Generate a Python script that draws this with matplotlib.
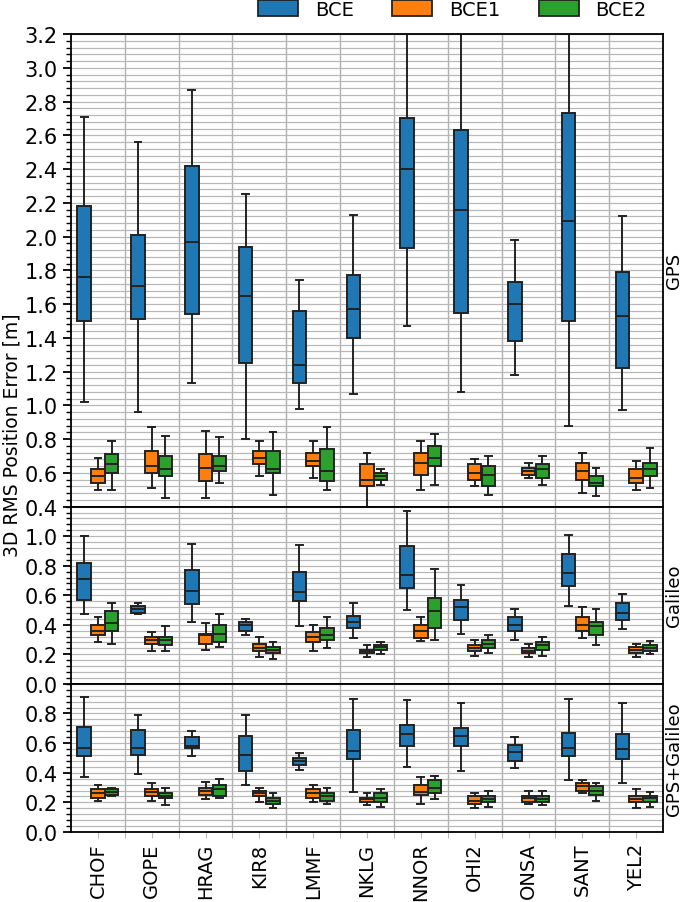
import numpy as np
import matplotlib
matplotlib.use("Agg")
import matplotlib.pyplot as plt
from matplotlib.patches import Patch
from matplotlib.ticker import MultipleLocator

stations = ["CHOF", "GOPE", "HRAG", "KIR8", "LMMF", "NKLG",
            "NNOR", "OHI2", "ONSA", "SANT", "YEL2"]
series = ["BCE", "BCE1", "BCE2"]
panels = ["GPS", "Galileo", "GPS+Galileo"]
colors = ["#1f77b4", "#ff7f0e", "#2ca02c"]

# (whisker low, q1, median, q3, whisker high) per station
gps_bce = [(1.02, 1.50, 1.76, 2.18, 2.71), (0.96, 1.51, 1.71, 2.01, 2.56),
           (1.13, 1.54, 1.97, 2.42, 2.87), (0.80, 1.25, 1.65, 1.94, 2.25),
           (0.98, 1.13, 1.24, 1.56, 1.74), (1.07, 1.40, 1.57, 1.77, 2.13),
           (1.47, 1.93, 2.40, 2.70, 3.50), (1.08, 1.55, 2.16, 2.63, 3.50),
           (1.18, 1.38, 1.60, 1.73, 1.98), (0.88, 1.50, 2.09, 2.73, 3.50),
           (0.97, 1.22, 1.53, 1.79, 2.12)]
gps_bce1 = [(0.50, 0.54, 0.58, 0.62, 0.69), (0.51, 0.60, 0.64, 0.73, 0.87),
            (0.45, 0.55, 0.63, 0.71, 0.85), (0.58, 0.65, 0.69, 0.73, 0.79),
            (0.57, 0.64, 0.67, 0.72, 0.79), (0.40, 0.52, 0.56, 0.65, 0.72),
            (0.50, 0.59, 0.66, 0.72, 0.79), (0.52, 0.56, 0.60, 0.65, 0.68),
            (0.57, 0.59, 0.61, 0.63, 0.66), (0.48, 0.56, 0.61, 0.66, 0.72),
            (0.50, 0.54, 0.57, 0.62, 0.67)]
gps_bce2 = [(0.50, 0.60, 0.65, 0.71, 0.79), (0.45, 0.58, 0.62, 0.70, 0.82),
            (0.54, 0.61, 0.64, 0.70, 0.81), (0.47, 0.60, 0.62, 0.73, 0.84),
            (0.50, 0.55, 0.61, 0.74, 0.87), (0.53, 0.56, 0.58, 0.60, 0.62),
            (0.53, 0.64, 0.69, 0.76, 0.83), (0.47, 0.52, 0.59, 0.64, 0.70),
            (0.53, 0.57, 0.62, 0.65, 0.70), (0.46, 0.52, 0.54, 0.58, 0.63),
            (0.51, 0.58, 0.62, 0.66, 0.75)]

gal_bce = [(0.47, 0.57, 0.71, 0.82, 1.00), (0.47, 0.48, 0.51, 0.53, 0.55),
           (0.42, 0.54, 0.63, 0.77, 0.95), (0.33, 0.36, 0.40, 0.42, 0.44),
           (0.39, 0.56, 0.62, 0.76, 0.94), (0.31, 0.38, 0.42, 0.46, 0.55),
           (0.50, 0.65, 0.74, 0.93, 1.17), (0.34, 0.43, 0.52, 0.57, 0.67),
           (0.30, 0.36, 0.40, 0.45, 0.51), (0.53, 0.66, 0.75, 0.88, 1.01),
           (0.37, 0.43, 0.48, 0.55, 0.61)]
gal_bce1 = [(0.28, 0.33, 0.36, 0.40, 0.45), (0.22, 0.27, 0.30, 0.32, 0.35),
            (0.23, 0.27, 0.33, 0.34, 0.41), (0.18, 0.22, 0.24, 0.27, 0.32),
            (0.22, 0.28, 0.32, 0.35, 0.40), (0.18, 0.21, 0.22, 0.23, 0.26),
            (0.29, 0.31, 0.36, 0.40, 0.45), (0.19, 0.22, 0.24, 0.26, 0.30),
            (0.18, 0.21, 0.22, 0.24, 0.27), (0.31, 0.36, 0.40, 0.45, 0.52),
            (0.18, 0.21, 0.23, 0.25, 0.27)]
gal_bce2 = [(0.27, 0.36, 0.41, 0.49, 0.55), (0.22, 0.26, 0.30, 0.32, 0.39),
            (0.25, 0.28, 0.34, 0.40, 0.47), (0.17, 0.21, 0.23, 0.25, 0.28),
            (0.24, 0.30, 0.33, 0.38, 0.45), (0.20, 0.23, 0.25, 0.26, 0.28),
            (0.30, 0.38, 0.49, 0.58, 0.78), (0.21, 0.24, 0.27, 0.30, 0.33),
            (0.19, 0.23, 0.26, 0.28, 0.32), (0.26, 0.33, 0.39, 0.42, 0.51),
            (0.20, 0.22, 0.24, 0.26, 0.29)]

comb_bce = [(0.37, 0.51, 0.57, 0.71, 0.91), (0.39, 0.52, 0.57, 0.69, 0.79),
            (0.51, 0.57, 0.58, 0.64, 0.68), (0.32, 0.41, 0.52, 0.65, 0.79),
            (0.42, 0.45, 0.48, 0.50, 0.53), (0.27, 0.49, 0.55, 0.69, 0.90),
            (0.44, 0.58, 0.66, 0.72, 0.89), (0.41, 0.58, 0.65, 0.70, 0.87),
            (0.43, 0.48, 0.54, 0.59, 0.64), (0.35, 0.51, 0.57, 0.67, 0.90),
            (0.33, 0.49, 0.56, 0.66, 0.87)]
comb_bce1 = [(0.21, 0.23, 0.26, 0.29, 0.32), (0.21, 0.24, 0.27, 0.29, 0.33),
             (0.22, 0.25, 0.28, 0.30, 0.34), (0.20, 0.24, 0.26, 0.28, 0.30),
             (0.20, 0.23, 0.26, 0.29, 0.32), (0.18, 0.20, 0.22, 0.23, 0.26),
             (0.19, 0.25, 0.27, 0.32, 0.37), (0.16, 0.19, 0.21, 0.24, 0.26),
             (0.19, 0.20, 0.23, 0.24, 0.28), (0.26, 0.28, 0.31, 0.33, 0.35),
             (0.16, 0.20, 0.22, 0.24, 0.29)]
comb_bce2 = [(0.24, 0.25, 0.27, 0.29, 0.30), (0.18, 0.23, 0.24, 0.26, 0.30),
             (0.23, 0.24, 0.29, 0.32, 0.36), (0.16, 0.19, 0.21, 0.23, 0.26),
             (0.19, 0.21, 0.24, 0.26, 0.30), (0.17, 0.20, 0.23, 0.26, 0.29),
             (0.22, 0.26, 0.30, 0.35, 0.38), (0.17, 0.20, 0.22, 0.24, 0.28),
             (0.18, 0.20, 0.22, 0.24, 0.28), (0.21, 0.25, 0.28, 0.31, 0.33),
             (0.17, 0.20, 0.23, 0.24, 0.27)]

panel_data = [[gps_bce, gps_bce1, gps_bce2],
              [gal_bce, gal_bce1, gal_bce2],
              [comb_bce, comb_bce1, comb_bce2]]
ylims = [(0.4, 3.2), (0.0, 1.2), (0.0, 1.0)]
yticks = [np.arange(0.4, 3.21, 0.2), np.arange(0.0, 1.01, 0.2), np.arange(0.0, 0.81, 0.2)]

edge = "#222222"
fig, axes = plt.subplots(3, 1, figsize=(6.85, 9.03), dpi=100, sharex=True,
                         gridspec_kw=dict(height_ratios=[472, 177, 148]))
fig.subplots_adjust(left=0.1036, right=0.968, top=0.9612, bottom=0.0775, hspace=0)

x = np.arange(len(stations))
offsets = [-0.255, 0.0, 0.255]

for ax, data, name, ylim, yt in zip(axes, panel_data, panels, ylims, yticks):
    for j, ser in enumerate(data):
        stats = [dict(whislo=s[0], q1=s[1], med=s[2], q3=s[3], whishi=s[4], fliers=[])
                 for s in ser]
        ax.bxp(stats, positions=x + offsets[j], widths=0.25, patch_artist=True,
               showfliers=False, manage_ticks=False,
               boxprops=dict(facecolor=colors[j], edgecolor=edge, linewidth=1.4),
               medianprops=dict(color=edge, linewidth=1.4),
               whiskerprops=dict(color=edge, linewidth=1.4),
               capprops=dict(color=edge, linewidth=1.4))
    ax.set_ylim(*ylim)
    ax.set_yticks(yt)
    ax.yaxis.set_minor_locator(MultipleLocator(0.04))
    ax.set_xlim(-0.5, len(stations) - 0.5)
    ax.set_xticks(x)
    ax.set_xticks(x[:-1] + 0.5, minor=True)
    ax.grid(True, which="both", axis="y", color="#b8b8b8", linewidth=0.9)
    ax.grid(True, which="minor", axis="x", color="#b0b0b0", linewidth=1.0)
    ax.set_axisbelow(True)
    ax.tick_params(axis="y", which="major", labelsize=15, length=6, width=1.3)
    ax.tick_params(axis="y", which="minor", length=3.5, width=1.0)
    ax.tick_params(axis="x", which="major", length=4, color="#bbbbbb", labelsize=14)
    ax.tick_params(axis="x", which="minor", length=4, color="#aaaaaa")
    for sp in ax.spines.values():
        sp.set_linewidth(1.3)
    ax.text(1.003, 0.5, name, transform=ax.transAxes, rotation=90,
            ha="left", va="center", fontsize=13)

axes[-1].set_xticklabels(stations, rotation=90)

fig.text(0.018, 1 - 435 / 903, "3D RMS Position Error [m]", rotation=90,
         ha="center", va="center", fontsize=13.5)

handles = [Patch(facecolor=c, edgecolor=edge, linewidth=1.3, label=s)
           for c, s in zip(colors, series)]
fig.legend(handles=handles, loc="upper right", bbox_to_anchor=(0.944, 0.999),
           ncol=3, frameon=False, fontsize=14, handlelength=2.05, handleheight=0.85,
           handletextpad=0.85, columnspacing=2.0, borderaxespad=0, borderpad=0)

fig.savefig("out.png", dpi=100)
